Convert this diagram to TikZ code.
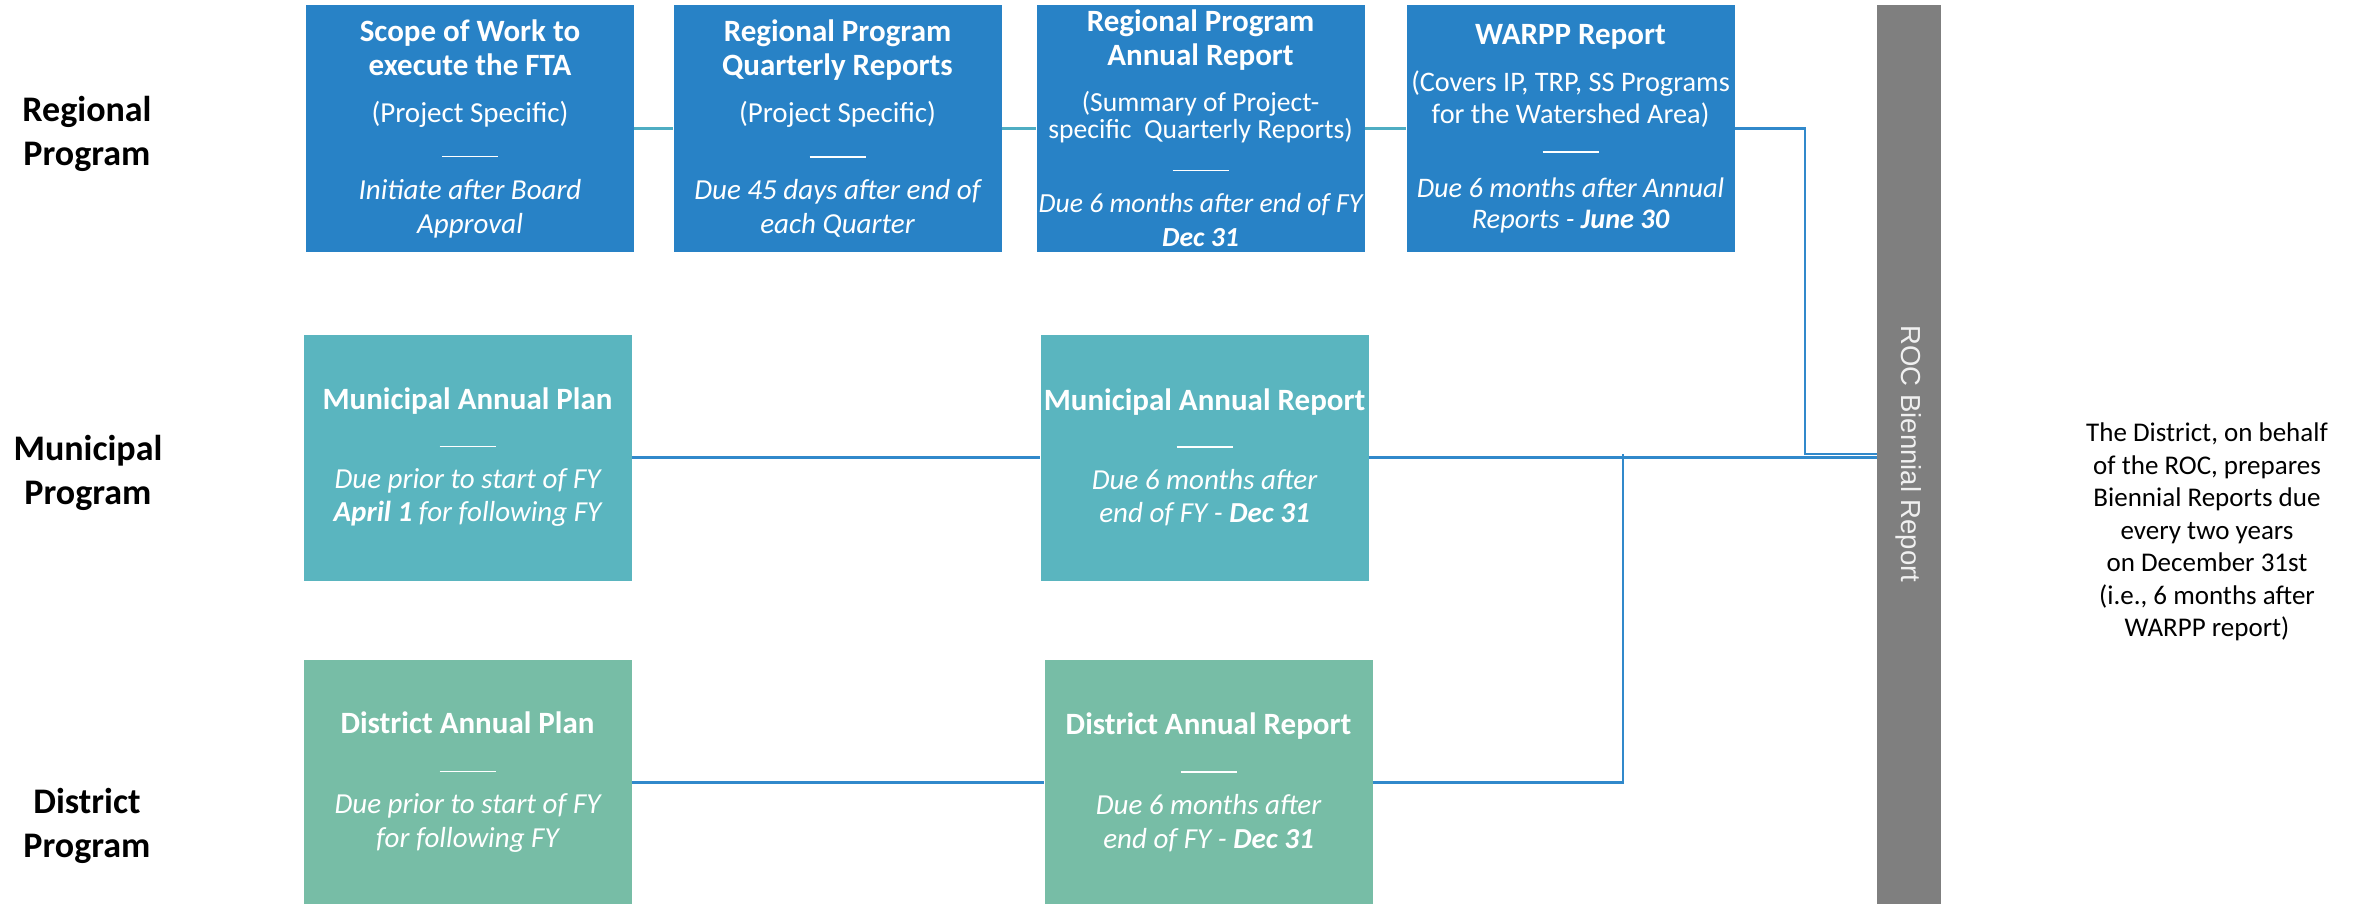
\documentclass[tikz,border=0pt]{standalone}
\usepackage{fontspec}
\setmainfont{Carlito}
\newfontfamily\arialf{Liberation Sans}
\definecolor{regblue}{HTML}{2882C6}
\definecolor{munteal}{HTML}{5AB5BF}
\definecolor{distgreen}{HTML}{77BDA6}
\definecolor{linkblue}{HTML}{3189CB}
\definecolor{linkteal}{HTML}{4EADC3}
\definecolor{bargray}{HTML}{7F7F7F}
\newcommand\bt[1]{{\fontsize{31}{35}\selectfont\bfseries #1}}
\newcommand\iit[1]{{\itshape #1}}
\newcommand\bit[1]{{\bfseries\itshape #1}}
\newcommand\sep{\rule[0.3em]{56pt}{1.6pt}}
\begin{document}
\begin{tikzpicture}[x=1pt,y=-1pt,
  box/.style={rectangle, minimum width=328pt, minimum height=246pt, inner sep=0pt,
    align=center, text=white, font=\fontsize{29}{34}\selectfont},
  regbox/.style={box, fill=regblue},
  munbox/.style={box, fill=munteal},
  distbox/.style={box, fill=distgreen},
  rowlabel/.style={align=center, font=\fontsize{36}{44}\selectfont\bfseries, text=black},
  tealline/.style={draw=linkteal, line width=2.4pt},
  blueline/.style={draw=linkblue, line width=2.4pt}]
\useasboundingbox (0,0) rectangle (2374,904);
% row labels
\node[rowlabel] (lreg) at (87,134) {Regional\\Program};
\node[rowlabel] (lmun) at (88,473) {Municipal\\Program};
\node[rowlabel] (ldist) at (87,826) {District\\Program};
% regional boxes
\node[regbox] (scope) at (470,128.5) {\bt{Scope of Work to}\\\bt{execute the FTA}\\[13pt]
  (Project Specific)\\[10pt]\sep\\[-1pt]\iit{Initiate after Board}\\\iit{Approval}};
\node[regbox] (quart) at (837.5,128.5) {\bt{Regional Program}\\\bt{Quarterly Reports}\\[13pt]
  (Project Specific)\\[10pt]\sep\\[-1pt]\iit{Due 45 days after end of}\\\iit{each Quarter}};
\node[regbox, font=\fontsize{27.6}{34}\selectfont] (annual) at (1200.5,128.5) {\bt{Regional Program}\\\bt{Annual Report}\\[12pt]
  (Summary of Project-\\[-7pt]specific\ \ Quarterly Reports)\\[7pt]\sep\\[-1pt]
  \iit{Due 6 months after end of FY}\\\bit{Dec 31}};
\node[regbox, font=\fontsize{28.3}{34}\selectfont] (warpp) at (1570.5,128.5) {\bt{WARPP Report}\\[13pt]
  (Covers IP, TRP, SS Programs\\[-2pt]for the Watershed Area)\\[4pt]\sep\\[2pt]
  \iit{Due 6 months after Annual}\\[-3pt]\iit{Reports - }\bit{June 30}};
% municipal boxes
\node[munbox] (mplan) at (467.5,457.5) {\bt{Municipal Annual Plan}\\[12pt]\sep\\[-1pt]
  \iit{Due prior to start of FY}\\[-1pt]\bit{April 1}\iit{ for following FY}};
\node[munbox] (mrep) at (1204.5,457.5) {\bt{Municipal Annual Report}\\[12pt]\sep\\[-1pt]
  \iit{Due 6 months after}\\[-1pt]\iit{end of FY - }\bit{Dec 31}};
% district boxes
\node[distbox] (dplan) at (467.5,782.5) {\bt{District Annual Plan}\\[13pt]\sep\\[-1pt]
  \iit{Due prior to start of FY}\\\iit{for following FY}};
\node[distbox] (drep) at (1208.5,782.5) {\bt{District Annual Report}\\[13pt]\sep\\[-1pt]
  \iit{Due 6 months after}\\\iit{end of FY - }\bit{Dec 31}};
% biennial bar
\node[rectangle, fill=bargray, minimum width=64pt, minimum height=900pt, inner sep=0pt] (bar) at (1909,455) {};
\node[rotate=-90, text=white!94!black, font=\arialf\fontsize{27.5}{32}\selectfont] (bartext) at (1909,454) {ROC Biennial Report};
% note
\node[align=center, text=black, font=\fontsize{27}{32.5}\selectfont] (note) at (2207,532)
  {The District, on behalf\\of the ROC, prepares\\Biennial Reports due\\every two years\\on December 31st\\(i.e., 6 months after\\WARPP report)};
% junctions
\coordinate (jr) at (1805,454);
\coordinate (jd) at (1623,454);
% connectors
\draw[tealline] (scope.east) -- (quart.west);
\draw[tealline] (quart.east) -- (annual.west);
\draw[tealline] (annual.east) -- (warpp.west);
\draw[blueline] (warpp.east) -| (jr) -- (jr -| bar.west);
\draw[blueline] (mplan.east) -- (mrep.west);
\draw[blueline] (mrep.east) -- (mrep.east -| bar.west);
\draw[blueline] (dplan.east) -- (drep.west);
\draw[blueline] (drep.east) -| (jd);
\end{tikzpicture}
\end{document}
